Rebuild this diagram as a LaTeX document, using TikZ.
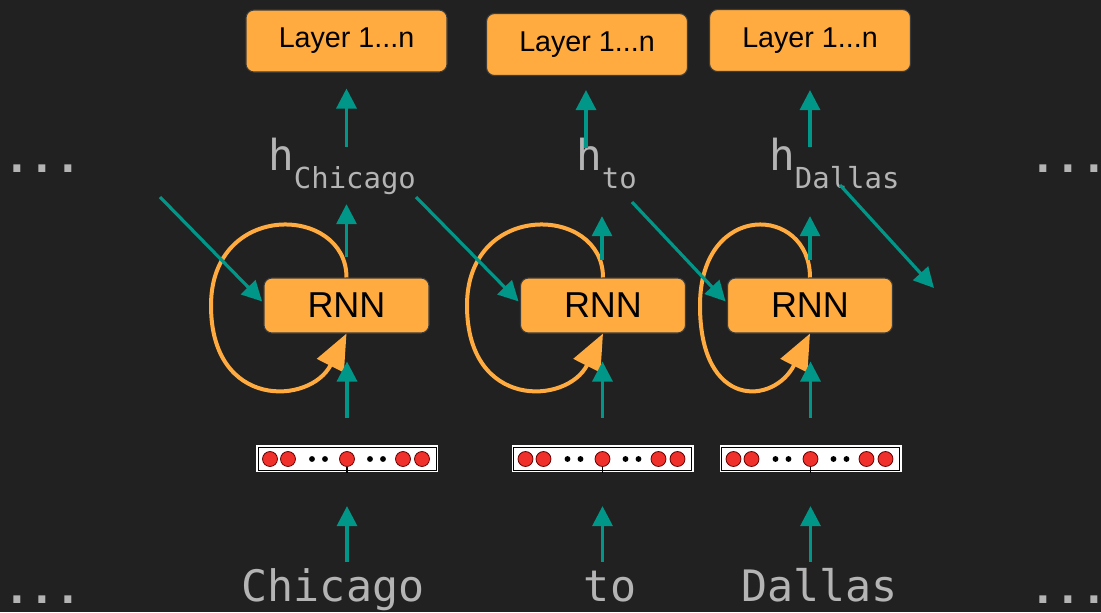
\documentclass[tikz,border=0pt]{standalone}
\usepackage{fontspec}
\setmainfont{Liberation Sans}
\newfontfamily\monof{DejaVu Sans Mono}
\usetikzlibrary{arrows.meta}
\definecolor{bgc}{HTML}{212121}
\definecolor{tealc}{HTML}{009688}
\definecolor{orng}{HTML}{FFAB40}
\definecolor{gtext}{HTML}{B4B4B4}
\definecolor{vred}{HTML}{F0302A}
\newcommand\embvec[2]{%
  \begin{scope}[shift={(#1,0)}]
    \node[fill=white, minimum width=136.5pt, minimum height=20pt, inner sep=0] (#2) at (0,458.5) {};
    \draw[black, line width=0.6pt] (-89,447) rectangle (89,470);
    \foreach \d in {-77,-59,0,56,75}
      \draw[fill=vred, draw=black!60!red, line width=0.6pt] (\d,459) circle (5.6pt);
    \foreach \d in {-35,-22,23,36}
      \fill[black] (\d,459) circle (2.2pt);
    \draw[black, line width=0.8pt] (0,467) -- (0,473);
  \end{scope}}
\begin{document}
\begin{tikzpicture}[x=0.75pt,y=-0.75pt,
  box/.style={fill=orng, draw={rgb,255:red,60;green,60;blue,60}, line width=0.8pt, rounded corners=6pt, text=black, inner sep=0},
  layerbox/.style={box, minimum width=150.75pt, minimum height=46.5pt, font=\fontsize{21.5}{24}\selectfont},
  rnnbox/.style={box, minimum width=123.75pt, minimum height=41.25pt, font=\fontsize{27}{30}\selectfont},
  tarrow/.style={draw=tealc, line width=2.4pt, -{Triangle[length=15pt,width=15pt]}},
  loopar/.style={draw=orng, line width=3pt, -{Triangle[length=27pt,width=22pt]}},
  word/.style={text=gtext, font=\monof\fontsize{32.5}{34}\selectfont, inner sep=0, anchor=base},
  hlab/.style={text=gtext, font=\monof, inner sep=0, anchor=base west},
  dots/.style={text=gtext, font=\monof\bfseries\fontsize{32}{20}\selectfont, inner sep=0, anchor=base west},
]
\useasboundingbox[fill=bgc] (0,0) rectangle (1101,612);

% layer boxes
\node[layerbox] (L1) at (346.5,41) {Layer 1...n};
\node[layerbox] (L2) at (587,44.5) {Layer 1...n};
\node[layerbox] (L3) at (810,40.5) {Layer 1...n};

% hidden-state labels
\node[hlab] (H1) at (268,170) {\fontsize{32}{34}\selectfont h\raisebox{-13.5pt}{\fontsize{21.7}{24}\selectfont Chicago}};
\node[hlab] (H2) at (576,170) {\fontsize{32}{34}\selectfont h\raisebox{-13.5pt}{\fontsize{21.7}{24}\selectfont to}};
\node[hlab] (H3) at (769,170) {\fontsize{32}{34}\selectfont h\raisebox{-13.5pt}{\fontsize{21.7}{24}\selectfont Dallas}};

% RNN boxes
\node[rnnbox] (R1) at (346.5,305.5) {RNN};
\node[rnnbox] (R2) at (603,305.5) {RNN};
\node[rnnbox] (R3) at (810,305.5) {RNN};

% embedding vectors
\embvec{347}{V1}
\embvec{602.5}{V2}
\embvec{810.5}{V3}

% words
\node[word] (W1) at (333,601) {Chicago};
\node[word] (W2) at (610,601) {to};
\node[word] (W3) at (819.5,601) {Dallas};

% ellipses
\node[dots] (DL1) at (4,172) {...};
\node[dots] (DL2) at (4,603) {...};
\node[dots] (DR1) at (1030,172) {...};
\node[dots] (DR2) at (1030,603) {...};

% recurrent loops
\draw[loopar] (R1.north) .. controls (346.5,205) and (211,200) .. (211,305.5)
   .. controls (211,410) and (310.5,405) .. (R1.south);
\draw[loopar] (R2.north) .. controls (603,205) and (467,200) .. (467,305.5)
   .. controls (467,410) and (567,405) .. (R2.south);
\draw[loopar] (R3.north) .. controls (810,205) and (700,200) .. (700,305.5)
   .. controls (700,410) and (774,405) .. (R3.south);

% vertical arrows: hidden state -> layers
\draw[tarrow, shorten >=12pt] ([yshift=-56pt]L1.south) -- (L1.south);
\draw[tarrow, shorten >=10.5pt] ([xshift=-0.75pt,yshift=-54pt]L2.south) -- ([xshift=-0.75pt]L2.south);
\draw[tarrow, shorten >=13.5pt] ([yshift=-56pt]L3.south) -- (L3.south);

% vertical arrows: RNN -> hidden state
\draw[tarrow] ([yshift=15pt]R1.north) -- ([yshift=55pt]R1.north);
\draw[tarrow] ([xshift=-0.75pt,yshift=13pt]R2.north) -- ([xshift=-0.75pt,yshift=46pt]R2.north);
\draw[tarrow] ([yshift=13pt]R3.north) -- ([yshift=46pt]R3.north);

% vertical arrows: vector -> RNN
\draw[tarrow, shorten >=21pt] ([yshift=20pt]V1.north) -- (V1.north |- R1.south);
\draw[tarrow, shorten >=21pt] ([yshift=20pt]V2.north) -- (V2.north |- R2.south);
\draw[tarrow, shorten >=21pt] ([yshift=20pt]V3.north) -- (V3.north |- R3.south);

% vertical arrows: word -> vector
\draw[tarrow, shorten >=25.5pt] ([yshift=-67.5pt]V1.south) -- (V1.south);
\draw[tarrow, shorten >=25.5pt] ([yshift=-67.5pt]V2.south) -- (V2.south);
\draw[tarrow, shorten >=25.5pt] ([yshift=-67.5pt]V3.south) -- (V3.south);

% diagonal recurrent connections
\coordinate (d1) at (160,197);
\coordinate (d2) at (416,197);
\coordinate (d3) at (632,202);
\coordinate (d4) at (840,185);
\coordinate (d5) at (934,288);
\draw[tarrow, shorten >=1.5pt] (d1) -- ([yshift=2pt]R1.west);
\draw[tarrow, shorten >=1.5pt] (d2) -- ([yshift=2pt]R2.west);
\draw[tarrow, shorten >=1.5pt] (d3) -- ([yshift=2pt]R3.west);
\draw[tarrow] (d4) -- (d5);
\end{tikzpicture}
\end{document}
